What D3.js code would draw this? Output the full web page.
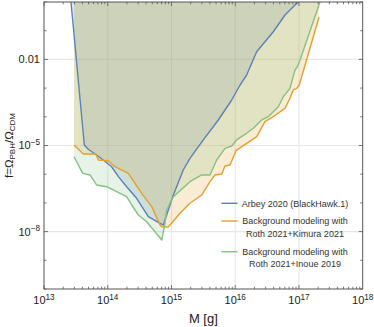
<!DOCTYPE html>
<html>
<head>
<meta charset="utf-8">
<script src="https://cdn.jsdelivr.net/npm/d3@7"></script>
<style>
  html, body { margin: 0; padding: 0; background: #fff; }
  svg { display: block; font-family: "Liberation Sans", Arial, sans-serif; }
</style>
</head>
<body>
<div id="chart"></div>
<script>
// values (M in grams, f = Omega_PBH / Omega_CDM)
var arbeyM = [2.65e13, 4.29e13, 4.95e13, 6.31e13, 8.51e13, 1.15e14, 1.47e14, 1.98e14, 2.84e14, 4.33e14, 6.6e14, 7.45e14,
              1.07e15, 1.53e15, 1.95e15, 3.16e15, 5.43e15, 8.81e15, 1.19e16, 1.51e16, 2.17e16, 3.96e16, 6.04e16, 8.67e16, 9.42e16, 9.66e16];
var arbeyF = [1, 1.04e-5, 7.4e-6, 5.06e-6, 3.13e-6, 1.82e-6, 8.2e-7, 3.67e-7, 1.45e-7, 3.3e-8, 1.95e-8, 1.7e-8,
              1.88e-7, 1.4e-6, 3.58e-6, 1.56e-5, 7.74e-5, 3.85e-4, 1.28e-3, 2.86e-3, 1.85e-2, 9.2e-2, 0.352, 0.786, 0.923, 1];

var kimuraM = [2.96e13, 4.14e13, 6.55e13, 7.11e13, 1.02e14, 1.30e14, 2.10e14, 3.41e14, 4.90e14, 6.61e14, 7.03e14, 8.92e14,
               1.36e15, 1.95e15, 2.98e15, 4.02e15, 4.81e15, 6.14e15, 6.92e15, 8.28e15, 1.03e16, 1.51e16, 2.17e16, 2.93e16,
               3.96e16, 6.04e16, 7.23e16, 8.15e16, 9.22e16, 1.01e17, 2.06e17];
var kimuraF = [1.04e-5, 5.06e-6, 5.06e-6, 3.13e-6, 2.95e-6, 1.82e-6, 1.07e-6, 2.16e-7, 7.4e-8, 1.7e-8, 1.48e-8, 1.45e-8,
               4.34e-8, 9.7e-8, 1.88e-7, 5.48e-7, 9.4e-7, 1.02e-6, 1.93e-6, 2.09e-6, 6.59e-6, 1.19e-5, 2.03e-5, 6.75e-5,
               1.01e-4, 1.98e-4, 4.41e-4, 8.6e-4, 9.8e-4, 1.28e-3, 0.293];

var inoueM = [2.96e13, 4.05e13, 5.27e13, 6.71e13, 9.64e13, 1.38e14, 1.98e14, 2.38e14, 3.02e14, 4.08e14, 5.51e14, 7.03e14,
              7.91e14, 8.41e14, 1.07e15, 1.95e15, 2.98e15, 4.02e15, 5.12e15, 6.92e15, 8.81e15, 1.05e16, 1.51e16, 1.92e16,
              2.60e16, 3.30e16, 4.74e16, 5.68e16, 7.23e16, 8.67e16, 9.42e16, 1.04e17, 2.06e17, 2.14e17];
var inoueF = [4.07e-6, 1.07e-6, 9.4e-7, 4.2e-7, 3.67e-7, 2.45e-7, 1.64e-7, 8.45e-8, 3.79e-8, 2.21e-8, 9.9e-9, 5.1e-9,
              1.95e-8, 5.66e-8, 1.64e-7, 5.48e-7, 9.4e-7, 9.4e-7, 3.13e-6, 7.98e-6, 9.6e-6, 1.56e-5, 2.66e-5, 3.97e-5,
              7.74e-5, 1.01e-4, 2.25e-4, 5.0e-4, 9.8e-4, 4.27e-3, 5.57e-3, 9.5e-3, 0.786, 1];

var xTickLabels = [13, 14, 15, 16, 17, 18];
var yTickLabels = [{ v: 1e-2, t: "0.01" }, { v: 1e-5, e: "\u22125" }, { v: 1e-8, e: "\u22128" }];

var seriesNames = ["Arbey 2020 (BlackHawk.1)",
                   ["Background modeling with", "Roth 2021+Kimura 2021"],
                   ["Background modeling with", "Roth 2021+Inoue 2019"]];
var colors = ["#5e81b5", "#e69f2a", "#84c184"];

var w = 374, h = 327;
var plot = { left: 44, right: 362.7, top: 2, bottom: 289 };

var svg = d3.select("#chart").append("svg").attr("width", w).attr("height", h);

var x = d3.scaleLog().domain([1e13, 1e18]).range([plot.left, plot.right]);
var y = d3.scaleLog().domain([1e-10, 1]).range([plot.bottom, plot.top]);

svg.append("clipPath").attr("id", "clip")
  .append("rect")
  .attr("x", plot.left).attr("y", plot.top)
  .attr("width", plot.right - plot.left).attr("height", plot.bottom - plot.top);

// grid
var grid = svg.append("g").attr("stroke", "#e8e8e8").attr("stroke-width", 1.2);
[1e14, 1e15, 1e16, 1e17].forEach(function(d) {
  grid.append("line").attr("x1", x(d)).attr("x2", x(d)).attr("y1", plot.top).attr("y2", plot.bottom);
});
yTickLabels.forEach(function(d) {
  grid.append("line").attr("x1", plot.left).attr("x2", plot.right).attr("y1", y(d.v)).attr("y2", y(d.v));
});

function pts(ms, fs) {
  return ms.map(function(m, i) { return [m, fs[i]]; });
}
var series = [pts(arbeyM, arbeyF), pts(kimuraM, kimuraF), pts(inoueM, inoueF)];

var area = d3.area()
  .x(function(d) { return x(d[0]); })
  .y0(plot.top)
  .y1(function(d) { return y(d[1]); });

var line = d3.line()
  .x(function(d) { return x(d[0]); })
  .y(function(d) { return y(d[1]); });

var g = svg.append("g").attr("clip-path", "url(#clip)");

series.forEach(function(s, i) {
  g.append("path").attr("d", area(s))
    .attr("fill", colors[i]).attr("fill-opacity", 0.2).attr("stroke", "none");
});
series.forEach(function(s, i) {
  g.append("path").attr("d", line(s))
    .attr("fill", "none").attr("stroke", colors[i]).attr("stroke-width", 1.4)
    .attr("stroke-linejoin", "round");
});

// frame
svg.append("rect")
  .attr("x", plot.left).attr("y", plot.top)
  .attr("width", plot.right - plot.left).attr("height", plot.bottom - plot.top)
  .attr("fill", "none").attr("stroke", "#555").attr("stroke-width", 1);

// ticks
var ticks = svg.append("g").attr("stroke", "#555").attr("stroke-width", 0.8);
for (var e = 13; e < 18; e++) {
  for (var k = 1; k <= 9; k++) {
    var xv = x(k * Math.pow(10, e));
    var len = k === 1 ? 4 : 2.3;
    ticks.append("line").attr("x1", xv).attr("x2", xv).attr("y1", plot.bottom).attr("y2", plot.bottom - len);
    ticks.append("line").attr("x1", xv).attr("x2", xv).attr("y1", plot.top).attr("y2", plot.top + len);
  }
}
for (var p = -10; p <= 0; p++) {
  var yv = y(Math.pow(10, p));
  var major = (p === -2 || p === -5 || p === -8);
  var l2 = major ? 4 : 2.5;
  ticks.append("line").attr("x1", plot.left).attr("x2", plot.left + l2).attr("y1", yv).attr("y2", yv);
  ticks.append("line").attr("x1", plot.right).attr("x2", plot.right - l2).attr("y1", yv).attr("y2", yv);
}

// tick labels
var labels = svg.append("g").attr("fill", "#222").attr("font-size", 11);
xTickLabels.forEach(function(e) {
  var t = labels.append("text").attr("x", x(Math.pow(10, e))).attr("y", 304).attr("text-anchor", "middle");
  t.append("tspan").text("10");
  t.append("tspan").attr("dy", -4.5).attr("font-size", 8.2).text(e);
});
yTickLabels.forEach(function(d) {
  var t = labels.append("text").attr("x", 40).attr("y", y(d.v) + 3.9).attr("text-anchor", "end");
  if (d.t) {
    t.text(d.t);
  } else {
    t.append("tspan").text("10");
    t.append("tspan").attr("dy", -4.5).attr("font-size", 8.2).text(d.e);
  }
});

// axis titles
svg.append("text")
  .attr("x", (plot.left + plot.right) / 2).attr("y", 323)
  .attr("text-anchor", "middle").attr("font-size", 13).attr("fill", "#222")
  .text("M [g]");

var yt = svg.append("text")
  .attr("transform", "translate(12.5," + ((plot.top + plot.bottom) / 2) + ") rotate(-90)")
  .attr("text-anchor", "middle").attr("font-size", 11.5).attr("fill", "#222");
yt.append("tspan").text("f=\u03a9");
yt.append("tspan").attr("dy", 2.5).attr("font-size", 8).text("PBH");
yt.append("tspan").attr("dy", -2.5).text("/\u03a9");
yt.append("tspan").attr("dy", 2.5).attr("font-size", 8).text("CDM");

// legend
var legendY = [203.3, 221, 251.7];
var leg = svg.append("g").attr("font-size", 9).attr("fill", "#333");
seriesNames.forEach(function(name, i) {
  leg.append("line")
    .attr("x1", 221.5).attr("x2", 237.5).attr("y1", legendY[i]).attr("y2", legendY[i])
    .attr("stroke", colors[i]).attr("stroke-width", 1.4);
  if (typeof name === "string") {
    leg.append("text").attr("x", 241.7).attr("y", legendY[i] + 3.2).text(name);
  } else {
    name.forEach(function(s, j) {
      leg.append("text").attr("x", 295).attr("y", legendY[i] + 3.2 + j * 12.3)
        .attr("text-anchor", "middle").text(s);
    });
  }
});
</script>
</body>
</html>
